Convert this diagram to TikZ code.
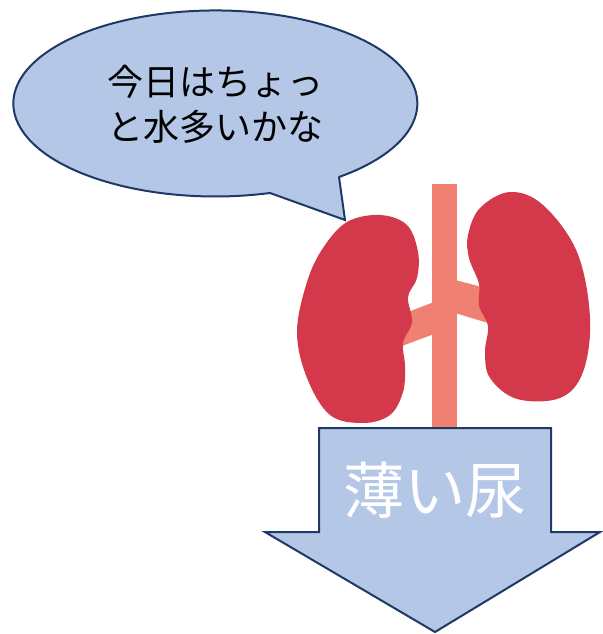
\documentclass[tikz,border=0pt]{standalone}
\usepackage{fontspec}
\newfontfamily\jpfont{Noto Sans CJK JP}
\definecolor{boxfill}{RGB}{180,199,231}
\definecolor{boxline}{RGB}{32,56,100}
\definecolor{kidneyred}{RGB}{211,56,75}
\definecolor{vessel}{RGB}{240,128,114}
\tikzset{
  shapebox/.style={fill=boxfill, draw=boxline, line width=1.5pt, line join=miter},
  organ/.style={fill=kidneyred},
  vesselpart/.style={fill=vessel},
}
\begin{document}
\begin{tikzpicture}[x=0.75pt, y=-0.75pt]
\useasboundingbox (0,0) rectangle (602,634);

% blood vessels behind the kidneys
\fill[vesselpart] (432,184) rectangle (457,432);
\fill[vesselpart] (434,302) -- (408,312) -- (402,346) -- (434,334) -- cycle;
\fill[vesselpart] (455,280) -- (482,287) -- (488,323) -- (455,313) -- cycle;

% left kidney
\fill[organ] plot[smooth cycle, tension=0.6] coordinates {
  (380,215) (407,225) (418,252) (417,278) (408,297) (412,322) (403,343)
  (405,366) (403,392) (390,415) (363,423) (330,415) (307,378) (297,332)
  (307,282) (323,248) (347,222)};
% right kidney
\fill[organ] plot[smooth cycle, tension=0.6] coordinates {
  (510,192) (543,205) (577,252) (590,318) (583,372) (560,398) (517,399)
  (490,378) (485,352) (488,326) (479,306) (479,284) (469,258) (468,235)
  (480,208)};

% speech bubble
\path[shapebox] (339,177) -- (345,220) -- (270,193)
  arc[start angle=74.3, end angle=412.4, x radius=202, y radius=93] -- cycle;
\node[font=\jpfont\fontsize{27pt}{34pt}\selectfont, align=center] (say) at (215,104)
  {今日はちょっ\\と水多いかな};

% downward arrow
\path[shapebox] (319,428) -- (551,428) -- (551,532) -- (600,532) -- (435,632)
  -- (265,532) -- (319,532) -- cycle;
\node[font=\jpfont\fontsize{46pt}{50pt}\selectfont, text=white] (urine) at (435,490) {薄い尿};
\end{tikzpicture}
\end{document}
